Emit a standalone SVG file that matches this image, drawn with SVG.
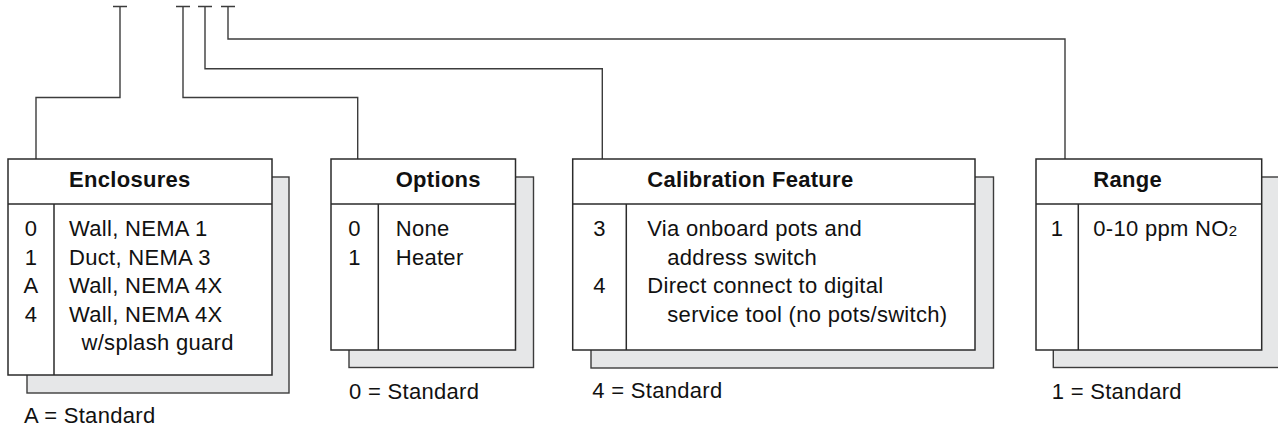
<svg xmlns="http://www.w3.org/2000/svg" width="1278" height="432" viewBox="0 0 1278 432">
<style>
.bg{fill:#ffffff}
.conn{fill:none;stroke:#3c3c3c;stroke-width:1.4}
.shadow{fill:#e6e7e8;stroke:#3c3c3c;stroke-width:1.4}
.box{fill:#ffffff;stroke:#2b2b2b;stroke-width:1.5}
.div{fill:none;stroke:#2b2b2b;stroke-width:1.5}
text{font-family:"Liberation Sans",Arial,Helvetica,sans-serif;font-size:22px;fill:#111;letter-spacing:0.3px}
.hd{font-weight:bold}
.code{text-anchor:middle}
.sub{font-size:15px;letter-spacing:0}
</style>
<rect class="bg" x="0" y="0" width="1278" height="432"/>
<g id="connectors">
<path class="conn" d="M113,6.5 H127 M120,6.5 V97.5 H36 V159"/>
<path class="conn" d="M176,6.5 H190 M183,6.5 V97.5 H357.7 V159"/>
<path class="conn" d="M198,6.5 H212 M205,6.5 V68.7 H602.3 V159"/>
<path class="conn" d="M221,6.5 H235 M228,6.5 V39 H1065 V159"/>
</g>
<g id="enclosures">
<rect class="shadow" x="27" y="177" width="262" height="216"/>
<rect class="box" x="8" y="159" width="264" height="216"/>
<path class="div" d="M8,204 H272 M54,204 V375"/>
<text class="hd" x="69" y="187">Enclosures</text>
<text class="code" x="31" y="236">0</text>
<text class="code" x="31" y="264.5">1</text>
<text class="code" x="31" y="293">A</text>
<text class="code" x="31" y="321.5">4</text>
<text x="69" y="236">Wall, NEMA 1</text>
<text x="69" y="264.5">Duct, NEMA 3</text>
<text x="69" y="293">Wall, NEMA 4X</text>
<text x="69" y="321.5">Wall, NEMA 4X</text>
<text x="81.5" y="350">w/splash guard</text>
<text x="24" y="423">A = Standard</text>
</g>
<g id="options">
<rect class="shadow" x="349" y="177" width="184.5" height="190.5"/>
<rect class="box" x="331" y="159" width="184.5" height="191"/>
<path class="div" d="M331,204 H515.5 M378.3,204 V350"/>
<text class="hd" x="395.7" y="187">Options</text>
<text class="code" x="354.5" y="236">0</text>
<text class="code" x="354.5" y="264.5">1</text>
<text x="395.7" y="236">None</text>
<text x="395.7" y="264.5">Heater</text>
<text x="349" y="398.5">0 = Standard</text>
</g>
<g id="calibration">
<rect class="shadow" x="591" y="177" width="402.5" height="191"/>
<rect class="box" x="572.7" y="159" width="402.3" height="191"/>
<path class="div" d="M572.7,204 H975 M626.3,204 V350"/>
<text class="hd" x="647.3" y="187">Calibration Feature</text>
<text class="code" x="599.5" y="236">3</text>
<text class="code" x="599.5" y="293">4</text>
<text x="647.3" y="236">Via onboard pots and</text>
<text x="667.3" y="264.5">address switch</text>
<text x="647.3" y="293">Direct connect to digital</text>
<text x="667.3" y="321.5">service tool (no pots/switch)</text>
<text x="592.3" y="397.5">4 = Standard</text>
</g>
<g id="range">
<rect class="shadow" x="1053.3" y="177" width="240" height="190.5"/>
<rect class="box" x="1036" y="159" width="225.7" height="191"/>
<path class="div" d="M1036,204 H1261.7 M1078.3,204 V350"/>
<text class="hd" x="1093.3" y="187">Range</text>
<text class="code" x="1057" y="236">1</text>
<text x="1093.3" y="236">0-10 ppm NO<tspan class="sub">2</tspan></text>
<text x="1051.7" y="398.5">1 = Standard</text>
</g>
</svg>
